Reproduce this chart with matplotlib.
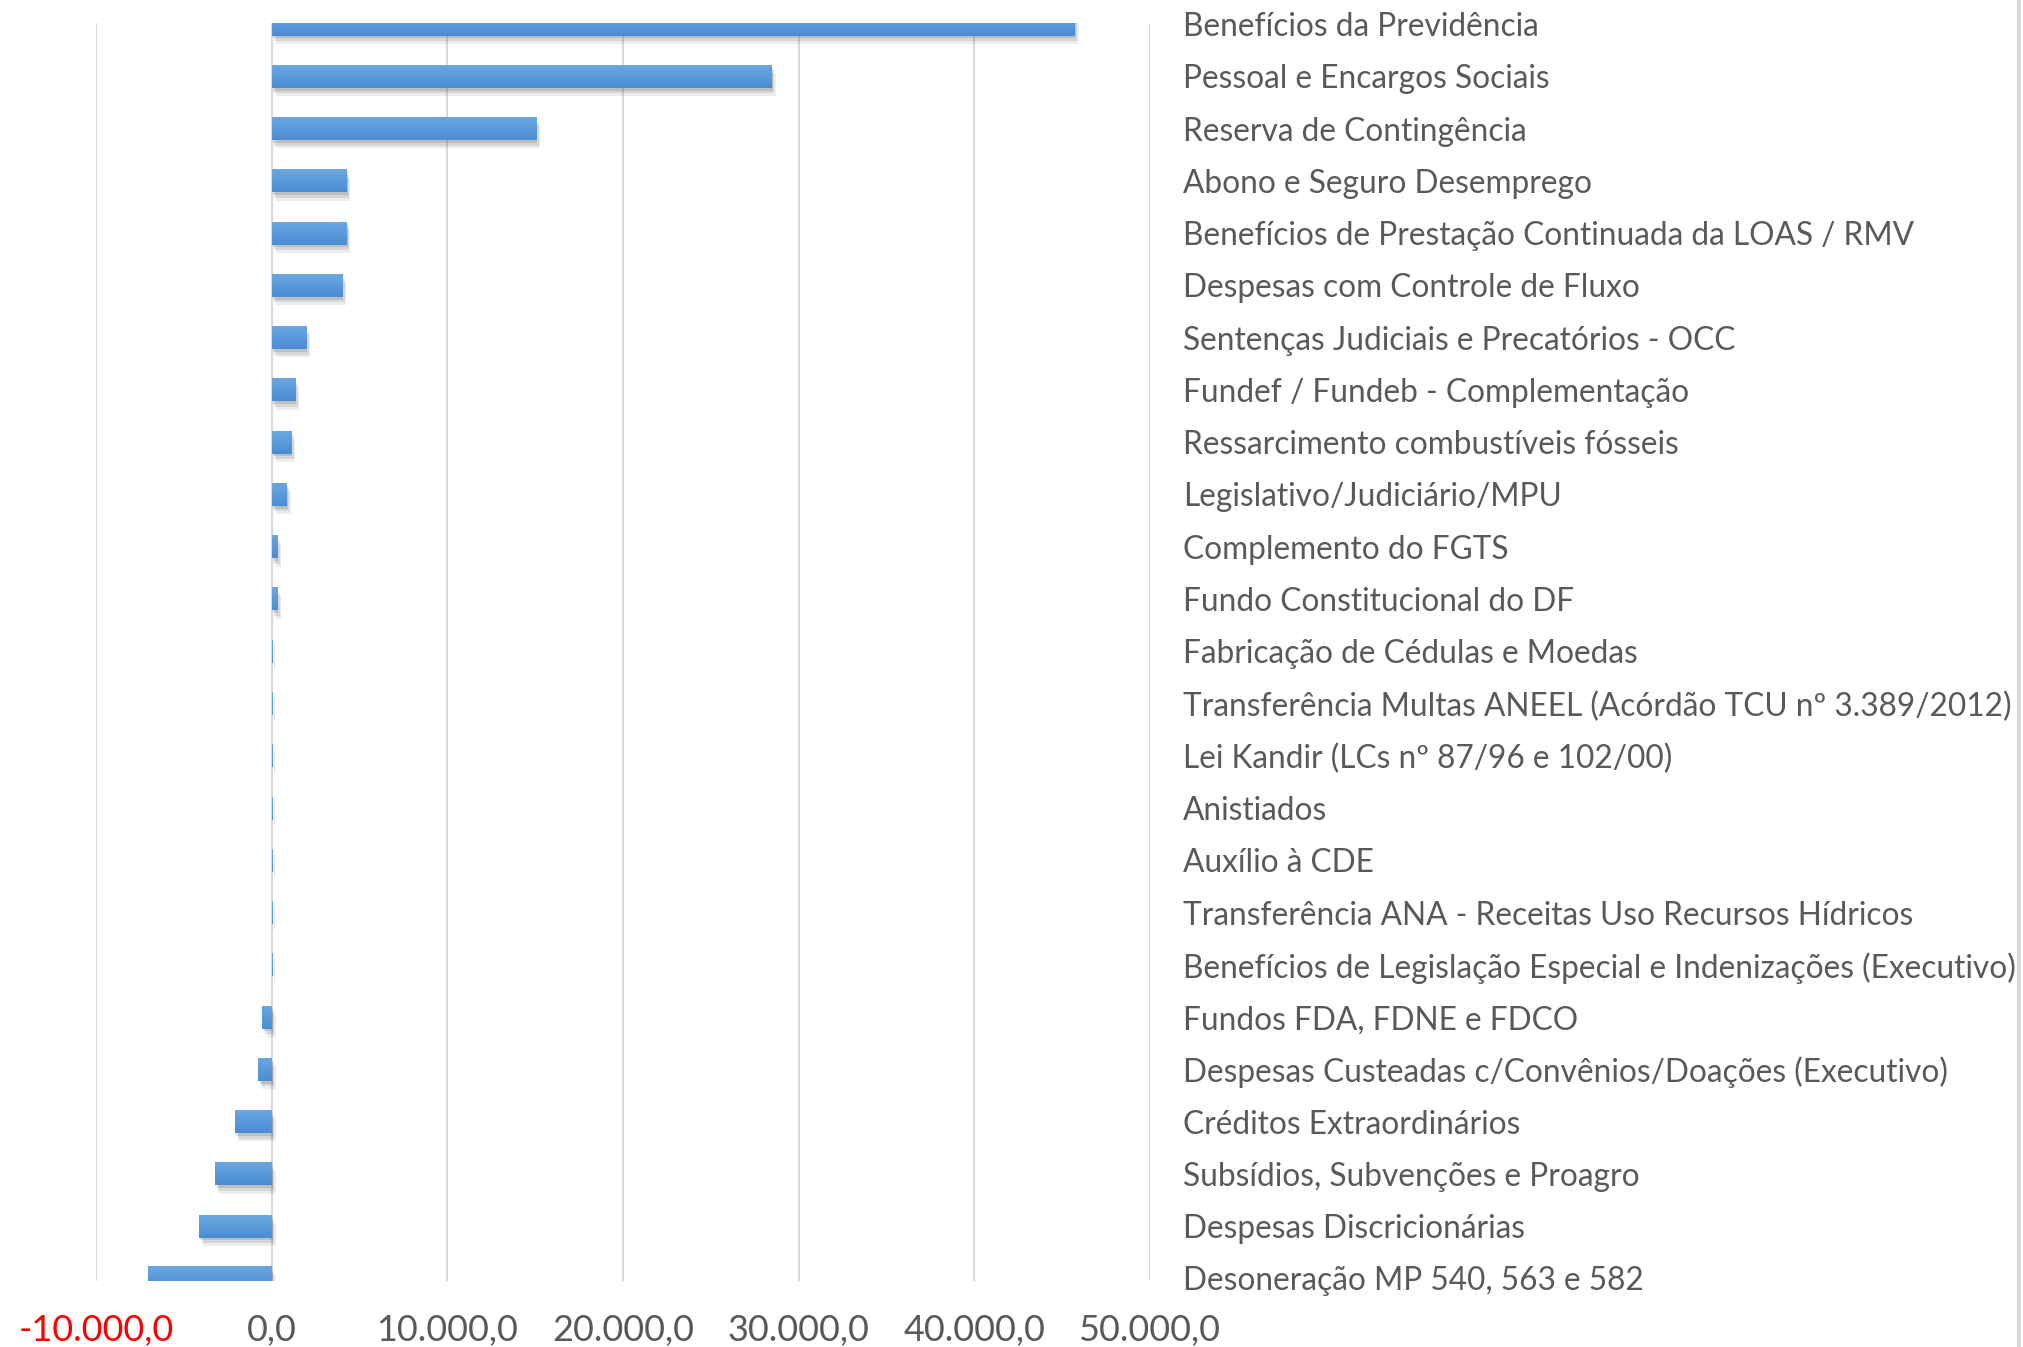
import matplotlib
matplotlib.use("Agg")
import matplotlib.pyplot as plt
import matplotlib.patheffects as pe
from matplotlib.lines import Line2D
from matplotlib.colors import LinearSegmentedColormap
import numpy as np

categories = [
    "Benefícios da Previdência",
    "Pessoal e Encargos Sociais",
    "Reserva de Contingência",
    "Abono e Seguro Desemprego",
    "Benefícios de Prestação Continuada da LOAS / RMV",
    "Despesas com Controle de Fluxo",
    "Sentenças Judiciais e Precatórios - OCC",
    "Fundef / Fundeb - Complementação",
    "Ressarcimento combustíveis fósseis",
    "Legislativo/Judiciário/MPU",
    "Complemento do FGTS",
    "Fundo Constitucional do DF",
    "Fabricação de Cédulas e Moedas",
    "Transferência Multas ANEEL (Acórdão TCU nº 3.389/2012)",
    "Lei Kandir (LCs nº 87/96 e 102/00)",
    "Anistiados",
    "Auxílio à CDE",
    "Transferência ANA - Receitas Uso Recursos Hídricos",
    "Benefícios de Legislação Especial e Indenizações (Executivo)",
    "Fundos FDA, FDNE e FDCO",
    "Despesas Custeadas c/Convênios/Doações (Executivo)",
    "Créditos Extraordinários",
    "Subsídios, Subvenções e Proagro",
    "Despesas Discricionárias",
    "Desoneração MP 540, 563 e 582",
]
values = [45700, 28450, 15050, 4250, 4250, 3990, 1950, 1330, 1100, 850,
          300, 300, 15, 10, 10, 5, 5, 5, 5,
          -530, -760, -2100, -3210, -4140, -7050]
xticks = [-10000, 0, 10000, 20000, 30000, 40000, 50000]
xticklabels = ["-10.000,0", "0,0", "10.000,0", "20.000,0", "30.000,0", "40.000,0", "50.000,0"]

FONT = "Lato"
TXT = "#595959"

fig = plt.figure(figsize=(20.24, 13.47), dpi=100)
ax = fig.add_axes([96/2024, 1 - 1281/1347, (1150-96)/2024, (1281-23)/1347])

y = np.arange(len(categories))
shadow = [pe.SimplePatchShadow(offset=(1, -2), shadow_rgbFace="#555555", alpha=0.18),
          pe.SimplePatchShadow(offset=(2, -4), shadow_rgbFace="#555555", alpha=0.15),
          pe.SimplePatchShadow(offset=(3, -6), shadow_rgbFace="#555555", alpha=0.10),
          pe.Normal()]
bars = ax.barh(y, values, height=0.44, color="#5B9BD5", zorder=3, path_effects=shadow)

ax.set_xlim(-10000, 50000)
ax.set_ylim(24.05, -0.02)

# vertical gradient overlay on each bar
grad = np.linspace(0, 1, 64).reshape(-1, 1)
cmap = LinearSegmentedColormap.from_list("g", ["#6BA7E1", "#4A8DD3"])
for b in bars:
    x0, w = b.get_x(), b.get_width()
    y0, h = b.get_y(), b.get_height()
    if abs(w) < 1:
        continue
    im = ax.imshow(grad, cmap=cmap, aspect="auto", zorder=4,
                   extent=(min(x0, x0 + w), max(x0, x0 + w), y0 + h, y0),
                   interpolation="bilinear")
    im.set_clip_path(b)
    im.set_clip_box(ax.bbox)

ax.set_xlim(-10000, 50000)
ax.set_ylim(24.05, -0.02)
ax.set_xticks(xticks)
ax.set_xticklabels(xticklabels, fontsize=25.9, family=FONT, color=TXT)
ax.get_xticklabels()[0].set_color("red")
ax.set_yticks(y)
ax.set_yticklabels(categories, fontsize=22.8, family=FONT, color=TXT)
ax.yaxis.tick_right()
ax.tick_params(axis="y", length=0, pad=24)
ax.tick_params(axis="x", length=0, pad=24)
ax.grid(axis="x", color="#D9D9D9", linewidth=1.5, zorder=0)
ax.set_axisbelow(True)
for s in ax.spines.values():
    s.set_visible(False)

fig.add_artist(Line2D([2019/2024, 2019/2024], [0, 1], transform=fig.transFigure,
                      color="#D9D9D9", linewidth=3))

fig.savefig("out.png", dpi=100, facecolor="white")
